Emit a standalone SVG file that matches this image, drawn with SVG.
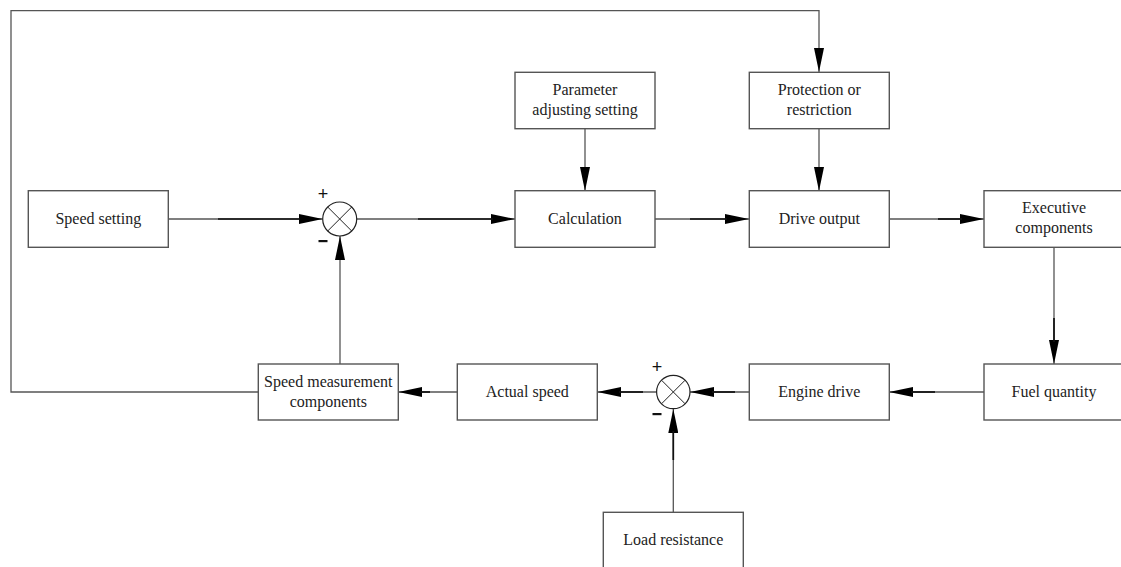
<svg xmlns="http://www.w3.org/2000/svg" width="1121" height="567" viewBox="0 0 1121 567">
<style>
.box{fill:#fff;stroke:#555;stroke-width:1.4}
.t{font-family:'Liberation Serif','Times New Roman',Times,serif;font-size:16px;fill:#222;text-anchor:middle}
.s{font-family:'Liberation Sans',Arial,sans-serif;font-size:18px;fill:#111;text-anchor:middle}
.ln{fill:none;stroke:#555;stroke-width:1.3}
.dk{fill:none;stroke:#111;stroke-width:1.7}
.sum{fill:#fff;stroke:#222;stroke-width:1.2}
.x{stroke:#222;stroke-width:1}
</style>
<defs>
<marker id="ah" markerUnits="userSpaceOnUse" markerWidth="24" markerHeight="10" refX="24" refY="5" orient="auto">
<path d="M0,0 L24,5 L0,10 Z" fill="#000"/>
</marker>
</defs>
<rect width="1121" height="567" fill="#fff"/>
<g id="connectors">
<path class="ln" d="M258,392 H11 V10.7 H819 V72" marker-end="url(#ah)"/>
<path class="ln" d="M168,219 H322.7" marker-end="url(#ah)"/>
<path class="dk" d="M218,219 H300"/>
<path class="ln" d="M356.7,219 H515" marker-end="url(#ah)"/>
<path class="dk" d="M418,219 H493"/>
<path class="ln" d="M585,128.7 V191" marker-end="url(#ah)"/>
<path class="ln" d="M819,128.7 V191" marker-end="url(#ah)"/>
<path class="ln" d="M655,219 H749" marker-end="url(#ah)"/>
<path class="dk" d="M690,219 H727"/>
<path class="ln" d="M889,219 H984" marker-end="url(#ah)"/>
<path class="dk" d="M938,219 H962"/>
<path class="ln" d="M1054,247 V364" marker-end="url(#ah)"/>
<path class="dk" d="M1054,318 V342"/>
<path class="ln" d="M984,392 H889" marker-end="url(#ah)"/>
<path class="dk" d="M935,392 H911"/>
<path class="ln" d="M749,392 H690" marker-end="url(#ah)"/>
<path class="dk" d="M735,392 H712"/>
<path class="ln" d="M656.7,392 H597.3" marker-end="url(#ah)"/>
<path class="dk" d="M643,392 H619"/>
<path class="ln" d="M457.3,392 H398.3" marker-end="url(#ah)"/>
<path class="dk" d="M430,392 H420"/>
<path class="ln" d="M673.3,512 V409" marker-end="url(#ah)"/>
<path class="dk" d="M673.3,460 V431"/>
<path class="ln" d="M340,364 V236" marker-end="url(#ah)"/>
</g>
<g id="speed-setting"><rect class="box" x="28.3" y="190.7" width="140" height="56.6"/><text class="t" x="98.3" y="224">Speed setting</text></g>
<g id="sum1">
<circle class="sum" cx="339.7" cy="219" r="17"/>
<line class="x" x1="327.7" y1="207" x2="351.7" y2="231"/><line class="x" x1="351.7" y1="207" x2="327.7" y2="231"/>
<text class="s" x="323" y="200">+</text>
<rect x="318.5" y="240" width="9" height="2.2" fill="#111"/>
</g>
<g id="parameter"><rect class="box" x="515" y="72.3" width="140" height="56.4"/><text class="t" x="585" y="95">Parameter</text><text class="t" x="585" y="115">adjusting setting</text></g>
<g id="calculation"><rect class="box" x="515" y="190.7" width="140" height="56.6"/><text class="t" x="585" y="224">Calculation</text></g>
<g id="protection"><rect class="box" x="749.3" y="72.3" width="140" height="56.4"/><text class="t" x="819.3" y="95">Protection or</text><text class="t" x="819.3" y="115">restriction</text></g>
<g id="drive-output"><rect class="box" x="749.3" y="190.7" width="140" height="56.6"/><text class="t" x="819.3" y="224">Drive output</text></g>
<g id="executive"><rect class="box" x="984" y="190.7" width="140" height="56.6"/><text class="t" x="1054" y="213">Executive</text><text class="t" x="1054" y="233">components</text></g>
<g id="fuel"><rect class="box" x="984" y="364" width="140" height="56"/><text class="t" x="1054" y="397">Fuel quantity</text></g>
<g id="engine"><rect class="box" x="749.3" y="364" width="140" height="56"/><text class="t" x="819.3" y="397">Engine drive</text></g>
<g id="sum2">
<circle class="sum" cx="673.3" cy="392" r="16.7"/>
<line class="x" x1="661.5" y1="380.2" x2="685.1" y2="403.8"/><line class="x" x1="685.1" y1="380.2" x2="661.5" y2="403.8"/>
<text class="s" x="657" y="373">+</text>
<rect x="652.5" y="413" width="9" height="2.2" fill="#111"/>
</g>
<g id="actual-speed"><rect class="box" x="457.3" y="364" width="140" height="56"/><text class="t" x="527.3" y="397">Actual speed</text></g>
<g id="speed-measurement"><rect class="box" x="258.3" y="364" width="140" height="56"/><text class="t" x="328.3" y="387">Speed measurement</text><text class="t" x="328.3" y="407">components</text></g>
<g id="load"><rect class="box" x="603.3" y="512.3" width="140" height="57"/><text class="t" x="673.3" y="545">Load resistance</text></g>
</svg>
